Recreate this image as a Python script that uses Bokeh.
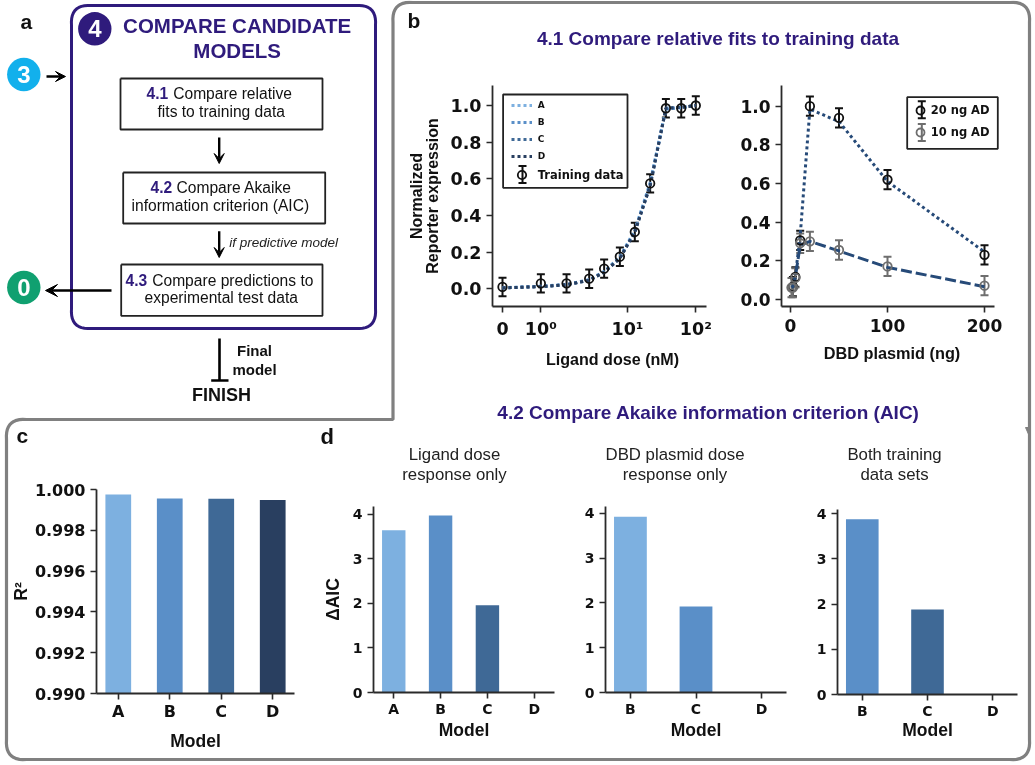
from bokeh.plotting import figure
from bokeh.models import (Range1d, FactorRange, FixedTicker, Whisker, TeeHead, Legend, LegendItem,
                          ColumnDataSource, Arrow, VeeHead, BoxAnnotation, NumeralTickFormatter)
from bokeh.core.properties import value
from bokeh.embed import file_html
from bokeh.resources import INLINE
import numpy as np

PURPLE = "#2f1b7c"
C_A, C_B, C_C, C_D = "#7db0e0", "#5a8fc8", "#3f6996", "#293f60"
AXC = "#2a2a2a"
GRAY = "#6e6e6e"
DV = "DejaVu Sans"
LS = "Liberation Sans"

# ---- data ----
models = ["A", "B", "C", "D"]
r2 = [0.99975, 0.99956, 0.99955, 0.99948]
aic_ligand = [3.64, 3.97, 1.96, 0.0]
models_3 = ["B", "C", "D"]
aic_dbd = [3.92, 1.92, 0.0]
aic_both = [3.88, 1.88, 0.0]

# ligand axis positions (axis is log-like, with a linear part near zero)
lig_pos = [0, 1.0, 1.67, 2.26, 2.65, 3.06, 3.45, 3.85, 4.26, 4.66, 5.04]
lig_tick_pos = [0, 1.0, 3.26, 5.04]
lig_tick_labels = ["0", "10\u2070", "10\u00b9", "10\u00b2"]
lig_data = [0.01, 0.03, 0.03, 0.055, 0.11, 0.175, 0.31, 0.575, 0.985, 0.985, 1.0]
lig_err = [0.05, 0.05, 0.05, 0.05, 0.05, 0.05, 0.05, 0.05, 0.05, 0.05, 0.05]
fit_A = [0.006, 0.014, 0.024, 0.05, 0.095, 0.175, 0.32, 0.58, 0.985, 0.99, 1.0]
fit_B = [0.005, 0.013, 0.023, 0.048, 0.092, 0.17, 0.315, 0.57, 0.98, 0.988, 1.0]
fit_C = [0.005, 0.012, 0.022, 0.047, 0.09, 0.168, 0.31, 0.565, 0.985, 0.99, 1.0]
fit_D = [0.005, 0.012, 0.022, 0.046, 0.09, 0.165, 0.31, 0.56, 0.985, 0.99, 1.0]

dbd_dose_hi = [2.5, 5, 10, 20, 50, 100, 200]
dbd_hi = [0.065, 0.115, 0.305, 1.0, 0.94, 0.62, 0.23]
dbd_hi_err = [0.05, 0.05, 0.05, 0.05, 0.05, 0.05, 0.05]
dbd_fit_hi = [0.065, 0.12, 0.33, 0.985, 0.92, 0.61, 0.245]
dbd_dose_lo = [1, 2.5, 5, 10, 20, 50, 100, 200]
dbd_lo = [0.06, 0.06, 0.11, 0.29, 0.30, 0.255, 0.17, 0.07]
dbd_lo_err = [0.05, 0.05, 0.05, 0.05, 0.05, 0.05, 0.05, 0.05]
dbd_fit_lo = [0.06, 0.065, 0.115, 0.28, 0.30, 0.25, 0.165, 0.065]

L, R, T_, B = 115, 30, 15, 75


# ---- helpers ----
def rounded_path(pts, radii):
    xs, ys = [], []
    n = len(pts)
    for i in range(n):
        p0, p1, p2 = np.array(pts[i - 1], float), np.array(pts[i], float), np.array(pts[(i + 1) % n], float)
        r = radii[i]
        if r == 0:
            xs.append(p1[0]); ys.append(p1[1])
            continue
        a = p1 + (p0 - p1) / np.linalg.norm(p0 - p1) * r
        b = p1 + (p2 - p1) / np.linalg.norm(p2 - p1) * r
        for t in np.linspace(0, 1, 12):
            q = a + (b - a) * t + (p1 - (a + b) / 2) * 4 * t * (1 - t) * 0.58
            xs.append(q[0]); ys.append(q[1])
    xs.append(xs[0]); ys.append(ys[0])
    return xs, ys


bg = figure(width=1035, height=765, x_range=Range1d(0, 1035), y_range=Range1d(765, 0),
            x_axis_location=None, y_axis_location=None, title=None,
            min_border_left=0, min_border_right=0, min_border_top=0, min_border_bottom=0,
            toolbar_location=None,
            output_backend="svg", outline_line_color=None, border_fill_color=None,
            background_fill_color=None)
bg.grid.visible = False


def T(x, y, s, size, color="#111111", bold=False, align="left", font=LS, italic=False):
    # y is the text's baseline
    style = "bold" if bold else ("italic" if italic else "normal")
    bg.text(x=[x], y=[y - 0.34 * size], text=[s], text_font=value(font), text_font_size=f"{size}px",
            text_font_style=style, text_color=color, text_align=align, text_baseline="alphabetic")


# gray panel outline
rx, ry = rounded_path([(392.5, 2), (1029, 2), (1029, 759), (6, 759), (6, 419), (392.5, 419)],
                      [20, 20, 20, 20, 20, 0])
bg.line(x=rx, y=ry, line_color="#808080", line_width=3.2)
bg.patch(x=[1025, 1029, 1029], y=[427, 427, 436], fill_color="#808080", line_color="#808080", line_width=1)

# purple frame
px_, py_ = rounded_path([(71, 5), (375, 5), (375, 328), (71, 328)], [20, 20, 20, 20])
bg.line(x=px_, y=py_, line_color=PURPLE, line_width=3)

# process boxes
for (x0, y0, x1, y1) in [(120, 78, 322, 129), (122.7, 172, 324.7, 223), (120.7, 264, 322, 315.3)]:
    bg.line(x=[x0, x1, x1, x0, x0], y=[y0, y0, y1, y1, y0], line_color="#222222", line_width=1.8)

# circles
bg.circle(x=[94.3], y=[28.3], radius=16.7, fill_color=PURPLE, line_color=None)
bg.circle(x=[23.3], y=[74], radius=16.7, fill_color="#12b0ec", line_color=None)
bg.circle(x=[23.3], y=[287], radius=16.7, fill_color="#10a070", line_color=None)
T(94.3, 36.5, "4", 24, "white", True, "center")
T(23.3, 82, "3", 24, "white", True, "center")
T(23.3, 295, "0", 24, "white", True, "center")

# headings
T(236.7, 32, "COMPARE CANDIDATE", 20.5, PURPLE, True, "center")
T(236.7, 56.5, "MODELS", 20.5, PURPLE, True, "center")
T(20, 28, "a", 21, "#111111", True)
T(407, 27, "b", 21, "#111111", True)
T(16, 442, "c", 21, "#111111", True)
T(320, 443, "d", 22, "#111111", True)

FS = 15.6
T(146, 98, "4.1", FS, PURPLE, True)
T(172.7, 98, "Compare relative", FS)
T(157, 116.7, "fits to training data", FS)
T(150, 192, "4.2", FS, PURPLE, True)
T(176, 192, "Compare Akaike", FS)
T(131, 210.7, "information criterion (AIC)", FS)
T(125, 285, "4.3", FS, PURPLE, True)
T(151.7, 285, "Compare predictions to", FS)
T(144, 302.7, "experimental test data", FS)
T(228.7, 246.7, "if predictive model", 13.5, "#222222", italic=True)

T(254, 355, "Final", 15, "#111111", True, "center")
T(254, 373.7, "model", 15, "#111111", True, "center")
T(221, 400.7, "FINISH", 18, "#111111", True, "center")


def arrow(x0, y0, x1, y1, size=10, w=2.4):
    bg.add_layout(Arrow(x_start=x0, y_start=y0, x_end=x1, y_end=y1, line_color="#000000", line_width=w,
                        end=VeeHead(size=size, fill_color="#000000", line_color="#000000", line_width=1)))


arrow(218.7, 137, 218.7, 163)
arrow(218.7, 230.7, 218.7, 257)
arrow(46, 76, 65, 76)
arrow(111, 290, 45, 290, size=12)
bg.line(x=[219, 219], y=[338, 380], line_color="#000000", line_width=2.6)
bg.line(x=[210.7, 228], y=[380, 380], line_color="#000000", line_width=2.6)

T(717.5, 44, "4.1 Compare relative fits to training data", 19, PURPLE, True, "center")
T(708, 418, "4.2 Compare Akaike information criterion (AIC)", 19, PURPLE, True, "center")
SS = 16.8
T(454, 460, "Ligand dose", SS, "#222222", align="center")
T(454, 480, "response only", SS, "#222222", align="center")
T(674.5, 460, "DBD plasmid dose", SS, "#222222", align="center")
T(674.5, 480, "response only", SS, "#222222", align="center")
T(894, 460, "Both training", SS, "#222222", align="center")
T(894, 480, "data sets", SS, "#222222", align="center")
T(612, 364, "Ligand dose (nM)", 16.1, "#111111", True, "center")


def panel(fl, fr, ft, fb, x_range, y_range, tick_size, xlabel=None, ylabel=None,
          lab_size=17.5, ticks_y=None, ticks_x=None, xstand=8, ystand=8, xls=6):
    f = figure(frame_width=int(round(fr - fl)), frame_height=int(round(fb - ft)), x_range=x_range, y_range=y_range,
               min_border_left=L, min_border_right=R, min_border_top=T_, min_border_bottom=B,
               title=None, toolbar_location=None, output_backend="svg", outline_line_color=None,
               border_fill_color=None, background_fill_color=None)
    f.grid.visible = False
    for ax in (f.xaxis[0], f.yaxis[0]):
        ax.axis_line_color = AXC
        ax.axis_line_width = 1.8
        ax.major_tick_line_color = AXC
        ax.major_tick_line_width = 1.6
        ax.major_tick_in = 0
        ax.major_tick_out = 6
        ax.minor_tick_line_color = None
        ax.major_label_text_font = DV
        ax.major_label_text_font_style = "bold"
        ax.major_label_text_color = "#111111"
        ax.major_label_text_font_size = f"{tick_size}px"
        ax.axis_label_text_font = LS
        ax.axis_label_text_font_style = "bold"
        ax.axis_label_text_color = "#111111"
        ax.axis_label_text_font_size = f"{lab_size}px"
    f.xaxis[0].major_label_standoff = xls
    f.yaxis[0].major_label_standoff = 5
    if xlabel:
        f.xaxis[0].axis_label = xlabel
        f.xaxis[0].axis_label_standoff = xstand
    if ylabel:
        f.yaxis[0].axis_label = ylabel
        f.yaxis[0].axis_label_standoff = ystand
    if ticks_y is not None:
        f.yaxis[0].ticker = FixedTicker(ticks=ticks_y)
    if ticks_x is not None:
        f.xaxis[0].ticker = FixedTicker(ticks=ticks_x)
    f.styles = {"position": "fixed", "left": f"{fl - L:.1f}px", "top": f"{ft - T_:.1f}px"}
    return f


def bars(f, cats, vals, cols, bottom):
    f.vbar(x=cats, top=vals, bottom=bottom, width=0.5, fill_color=cols, line_color=None)


# panel c
pc = panel(96, 294, 489, 693, FactorRange(factors=models, range_padding=-0.077, range_padding_units="absolute"),
           Range1d(0.99, 1.0), 16, "Model", "R\u00b2", ticks_y=[0.99, 0.992, 0.994, 0.996, 0.998, 1.0],
           xstand=7, ystand=1, xls=2)
pc.yaxis[0].formatter = NumeralTickFormatter(format="0.000")
bars(pc, models, r2, [C_A, C_B, C_C, C_D], 0.99)

# panels d
pd1 = panel(373, 554, 506, 692, FactorRange(factors=models, range_padding=-0.0675, range_padding_units="absolute"),
            Range1d(0, 4 * (692 - 506) / (692 - 513.7)), 14, "Model", "\u0394AIC", ticks_y=[0, 1, 2, 3, 4],
            xstand=0, ystand=7, xls=2)
bars(pd1, models, aic_ligand, [C_A, C_B, C_C, C_D], 0)
pd2 = panel(605, 786, 506, 692, FactorRange(factors=models_3, range_padding=-0.12, range_padding_units="absolute"),
            Range1d(0, 4 * (692 - 506) / (692 - 512.7)), 14, "Model", ticks_y=[0, 1, 2, 3, 4], xstand=0, xls=2)
bars(pd2, models_3, aic_dbd, [C_A, C_B, C_D], 0)
pd3 = panel(837, 1017, 509, 694, FactorRange(factors=models_3, range_padding=-0.12, range_padding_units="absolute"),
            Range1d(0, 4 * (694 - 509) / (694 - 513.3)), 14, "Model", ticks_y=[0, 1, 2, 3, 4], xstand=-2, xls=2)
bars(pd3, models_3, aic_both, [C_B, C_C, C_D], 0)


def whisker(f, xs, ys, errs, col, level="underlay"):
    src = ColumnDataSource(dict(x=xs, u=[a + b for a, b in zip(ys, errs)], l=[a - b for a, b in zip(ys, errs)]))
    f.add_layout(Whisker(base="x", upper="u", lower="l", source=src, dimension="height",
                         line_color=col, line_width=2, level=level,
                         upper_head=TeeHead(size=8, line_color=col, line_width=2),
                         lower_head=TeeHead(size=8, line_color=col, line_width=2)))


def errorbars(f, xs, ys, errs, col, size=8.5):
    whisker(f, xs, ys, errs, col)
    return f.scatter(xs, ys, marker="circle", size=size, fill_color=None, line_color=col, line_width=1.8)


# panel b, ligand
bx0, bx1 = 491.7, 705.7
lx_scale = (695 - 501.7) / 5.04
ly_scale = (288.3 - 105) / 1.0
pb1 = panel(bx0, bx1, 85, 306,
            Range1d((bx0 - 501.7) / lx_scale, (bx1 - 501.7) / lx_scale),
            Range1d((288.3 - 306) / ly_scale, (288.3 - 85) / ly_scale), 17.5, None,
            "Normalized\nReporter expression", lab_size=16, ticks_y=[0, 0.2, 0.4, 0.6, 0.8, 1.0],
            ticks_x=lig_tick_pos, ystand=6)
pb1.yaxis[0].axis_label_text_line_height = 0.95
pb1.yaxis[0].formatter = NumeralTickFormatter(format="0.0")
pb1.xaxis[0].major_label_overrides = dict(zip(lig_tick_pos, lig_tick_labels))
h = []
for fit, c in zip([fit_A, fit_B, fit_C, fit_D], [C_A, C_B, C_C, C_D]):
    h.append(pb1.line(lig_pos, fit, line_color=c, line_width=3, line_dash="3 3"))
tr = errorbars(pb1, lig_pos, lig_data, lig_err, "#111111")
pb1.add_layout(BoxAnnotation(left=(502.3 - 501.7) / lx_scale, right=(626.7 - 501.7) / lx_scale,
                             top=(288.3 - 94) / ly_scale, bottom=(288.3 - 187.3) / ly_scale,
                             fill_color="white", fill_alpha=1, line_color="#222222", line_alpha=1,
                             line_width=1.8, level="glyph"))
leg1 = Legend(items=[LegendItem(label=m, renderers=[r]) for m, r in zip(models, h)],
              location=(19, 306 - 161), orientation="vertical", background_fill_alpha=0, border_line_color=None,
              padding=0, margin=0, spacing=7, glyph_width=21, glyph_height=10, label_standoff=6,
              label_text_font=DV, label_text_font_style="bold", label_text_font_size="9px",
              label_height=10, label_text_color="#111111")
leg2 = Legend(items=[LegendItem(label="Training data", renderers=[tr])],
              location=(19, 306 - 187), orientation="vertical", background_fill_alpha=0, border_line_color=None,
              padding=0, margin=0, glyph_width=21, glyph_height=25, label_standoff=6,
              label_text_font=DV, label_text_font_style="bold", label_text_font_size="11.5px",
              label_text_color="#111111")
pb1.add_layout(leg1)
pb1.add_layout(leg2)
whisker(pb1, [(521.7 - 501.7) / lx_scale], [(288.3 - 174) / ly_scale], [0.046], "#111111", level="overlay")

# panel b, DBD (frame a little wider than the spine, so that the legend is not clipped)
dx0, dx1 = 781, 1002
dxs = (984 - 790) / 200.0
dys = (298.7 - 105.7) / 1.0
pb2 = panel(dx0, dx1, 85, 306,
            Range1d((dx0 - 790) / dxs, (dx1 - 790) / dxs),
            Range1d((298.7 - 306) / dys, (298.7 - 85) / dys), 17, "DBD plasmid (ng)", None,
            lab_size=16.3, ticks_y=[0, 0.2, 0.4, 0.6, 0.8, 1.0], ticks_x=[0, 100, 200], xstand=9)
pb2.xaxis[0].bounds = ((dx0 - 790) / dxs, (994.3 - 790) / dxs)
pb2.yaxis[0].formatter = NumeralTickFormatter(format="0.0")
pb2.line(dbd_dose_hi, dbd_fit_hi, line_color="#264a78", line_width=3, line_dash="3 3")
pb2.line(dbd_dose_lo, dbd_fit_lo, line_color="#264a78", line_width=3, line_dash="11 4")
r_hi = errorbars(pb2, dbd_dose_hi, dbd_hi, dbd_hi_err, "#111111")
r_lo = errorbars(pb2, dbd_dose_lo, dbd_lo, dbd_lo_err, GRAY)
pb2.add_layout(BoxAnnotation(left=(906.7 - 790) / dxs, right=(997.3 - 790) / dxs,
                             top=(298.7 - 96.7) / dys, bottom=(298.7 - 148.3) / dys,
                             fill_color="white", fill_alpha=1, line_color="#222222", line_alpha=1,
                             line_width=1.8, level="glyph"))
leg3 = Legend(items=[LegendItem(label="20 ng AD", renderers=[r_hi]), LegendItem(label="10 ng AD", renderers=[r_lo])],
              location=(906.7 - 781 + 3, 306 - 148.3 + 5), background_fill_alpha=0,
              border_line_color=None, padding=4, margin=0, spacing=0,
              glyph_width=20, glyph_height=22, label_standoff=1,
              label_text_font=DV, label_text_font_style="bold", label_text_font_size="11.5px",
              label_text_color="#111111")
pb2.add_layout(leg3)
whisker(pb2, [(921.3 - 790) / dxs], [(298.7 - 109.3) / dys], [0.044], "#111111", level="overlay")
whisker(pb2, [(921.3 - 790) / dxs], [(298.7 - 132) / dys], [0.044], GRAY, level="overlay")

bg.styles = {"position": "fixed", "left": "0px", "top": "0px"}
open("out.html", "w").write(file_html((bg, pb1, pb2, pc, pd1, pd2, pd3), INLINE))
